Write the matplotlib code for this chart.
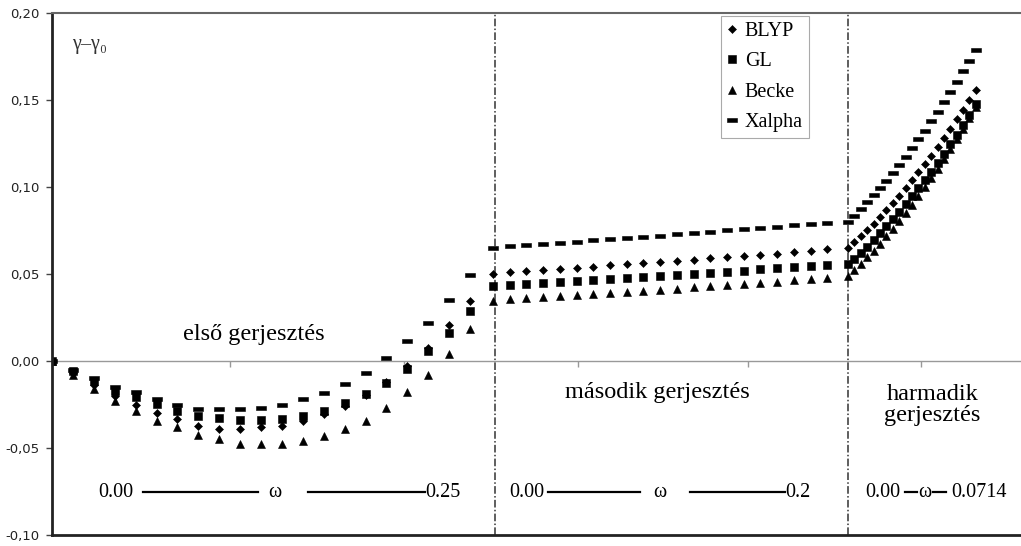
import matplotlib.pyplot as plt
import numpy as np

# omega grid of each excitation (21 points each)
omega1 = np.linspace(0, 0.25, 21)
omega2 = np.linspace(0, 0.2, 21)
omega3 = np.linspace(0, 0.0714, 21)

# first excitation
blyp1 = [0, -0.007, -0.014, -0.020, -0.025, -0.030, -0.0335, -0.0375, -0.0389, -0.0392, -0.0382,
         -0.0374, -0.0345, -0.0307, -0.0257, -0.0195, -0.0118, -0.003, 0.0077, 0.0205, 0.0345]
gl1 = [0, -0.006, -0.0115, -0.017, -0.0207, -0.0245, -0.0285, -0.0316, -0.033, -0.034, -0.0338,
       -0.0335, -0.0316, -0.0287, -0.024, -0.0187, -0.0125, -0.0048, 0.0057, 0.0163, 0.0287]
becke1 = [0, -0.008, -0.0163, -0.023, -0.029, -0.0347, -0.038, -0.0425, -0.045, -0.0475, -0.0479,
          -0.0479, -0.046, -0.043, -0.0393, -0.0343, -0.027, -0.0181, -0.0079, 0.004, 0.0182]
xalpha1 = [0, -0.005, -0.010, -0.015, -0.018, -0.022, -0.025, -0.0274, -0.0278, -0.0278, -0.0272,
           -0.0251, -0.022, -0.0182, -0.013, -0.0067, 0.0015, 0.0115, 0.022, 0.0349, 0.0492]

# second excitation
blyp2 = [0.0502, 0.0511, 0.0518, 0.0524, 0.053, 0.0536, 0.0542, 0.0549, 0.0556, 0.0562, 0.0569,
         0.0575, 0.0583, 0.059, 0.0597, 0.0603, 0.061, 0.0617, 0.0624, 0.0632, 0.0642]
gl2 = [0.0431, 0.0439, 0.0445, 0.045, 0.0456, 0.0461, 0.0466, 0.0472, 0.0478, 0.0484, 0.0489,
       0.0494, 0.05, 0.0507, 0.0513, 0.052, 0.0527, 0.0533, 0.054, 0.0546, 0.0552]
becke2 = [0.0345, 0.0356, 0.0363, 0.037, 0.0376, 0.0382, 0.0387, 0.0393, 0.0398, 0.0403, 0.0409,
          0.0416, 0.0423, 0.043, 0.0437, 0.0444, 0.045, 0.0456, 0.0463, 0.0469, 0.0475]
xalpha2 = [0.0651, 0.0661, 0.0667, 0.0674, 0.068, 0.0686, 0.0693, 0.0699, 0.0705, 0.0715, 0.0718,
           0.0728, 0.0738, 0.0743, 0.0751, 0.0757, 0.0762, 0.077, 0.078, 0.0787, 0.0793]

# third excitation
blyp3 = [0.065, 0.0683, 0.0717, 0.0752, 0.0789, 0.0827, 0.0866, 0.0907, 0.0949, 0.0993, 0.1038,
         0.1084, 0.1131, 0.118, 0.123, 0.1282, 0.1335, 0.1389, 0.1445, 0.1502, 0.156]
gl3 = [0.0556, 0.0589, 0.0623, 0.0658, 0.0695, 0.0733, 0.0773, 0.0814, 0.0857, 0.0901, 0.0946,
       0.0992, 0.104, 0.1089, 0.114, 0.1192, 0.1246, 0.1301, 0.1358, 0.1416, 0.1475]
becke3 = [0.0489, 0.0523, 0.0559, 0.0596, 0.0635, 0.0675, 0.0717, 0.076, 0.0805, 0.0851, 0.0899,
          0.0948, 0.0999, 0.1051, 0.1105, 0.116, 0.1217, 0.1275, 0.1335, 0.1396, 0.1459]
xalpha3 = [0.08, 0.0836, 0.0873, 0.0912, 0.0952, 0.0993, 0.1036, 0.1081, 0.1126, 0.1174, 0.1223,
           0.1273, 0.1324, 0.1378, 0.1432, 0.1488, 0.1546, 0.1605, 0.1665, 0.1727, 0.179]

y_ticks = [-0.10, -0.05, 0.00, 0.05, 0.10, 0.15, 0.20]

# where each excitation sits along the (label-less) x axis
offsets = [0.0, 0.2637, 0.4761]
scales = [1.0, 1.0, 1.07]
dividers = [0.2649, 0.4761]
axis_ticks = [0.1065, 0.2105, 0.3146, 0.4163, 0.5197]

SERIF = ['Liberation Serif', 'DejaVu Serif']
DASH = [(-1.5, -0.5), (1.5, -0.5), (1.5, 0.5), (-1.5, 0.5), (-1.5, -0.5)]

series = {
    'BLYP':   dict(data=[blyp1, blyp2, blyp3], marker='D', ms=4.4),
    'GL':     dict(data=[gl1, gl2, gl3], marker='s', ms=5.6),
    'Becke':  dict(data=[becke1, becke2, becke3], marker='^', ms=6.2),
    'Xalpha': dict(data=[xalpha1, xalpha2, xalpha3], marker=DASH, ms=7.4),
}

fig = plt.figure(figsize=(10.21, 5.46), dpi=100)
ax = fig.add_axes([52/1021, 11/546, 969/1021, 522/546])

for name, s in series.items():
    X = np.concatenate([o + k*w for o, k, w in zip(offsets, scales, [omega1, omega2, omega3])])
    Y = np.concatenate(s['data'])
    ax.plot(X, Y, ls='', marker=s['marker'], ms=s['ms'], color='black', mew=0.4, label=name)

ax.set_xlim(0, 0.5795)
ax.set_ylim(-0.10, 0.20)
ax.set_xticks([])
ax.set_yticks(y_ticks)
ax.set_yticklabels([f'{v:.2f}'.replace('.', ',') for v in y_ticks], fontsize=9.5, color='#222')
ax.tick_params(axis='y', length=4, width=1, color='#444', pad=5)

for side in ['left', 'bottom']:
    ax.spines[side].set_linewidth(2)
    ax.spines[side].set_color('#222')
ax.spines['top'].set_linewidth(1.5)
ax.spines['top'].set_color('#666')
ax.spines['right'].set_visible(False)

# horizontal axis through zero with its small ticks
ax.axhline(0, color='#999', lw=1, zorder=1)
ax.plot(axis_ticks, np.zeros(len(axis_ticks)), ls='', marker=3, ms=4, color='#999', zorder=1)

for d in dividers:
    ax.axvline(d, color='#333', lw=1.1, ls=(0, (5, 1.5, 1, 1.5)), zorder=1)

ax.text(0.012, 0.182, 'γ–γ₀', family=SERIF, fontsize=14.5, color='#333', va='center')
ax.text(0.1208, 0.0153, 'első gerjesztés', family=SERIF, fontsize=17.5, ha='center', va='center')
ax.text(0.3618, -0.018, 'második gerjesztés', family=SERIF, fontsize=17.5, ha='center', va='center')
ax.text(0.5265, -0.025, 'harmadik\ngerjesztés', family=SERIF, fontsize=17.5,
        ha='center', va='center', linespacing=1.0)

# omega ranges of the three excitations
yr = -0.0755
kw = dict(family=SERIF, fontsize=14.5, va='center')
ax.text(0.0275, yr, '0.00', **kw)
ax.text(0.1334, yr, 'ω', ha='center', **kw)
ax.text(0.2231, yr, '0.25', **kw)
ax.text(0.2733, yr, '0.00', **kw)
ax.text(0.3636, yr, 'ω', ha='center', **kw)
ax.text(0.4384, yr, '0.2', **kw)
ax.text(0.4862, yr, '0.00', **kw)
ax.text(0.5221, yr, 'ω', ha='center', **kw)
ax.text(0.5377, yr, '0.0714', **kw)
for x0, x1 in [(0.0544, 0.1232), (0.1531, 0.2231), (0.2967, 0.3517), (0.3816, 0.4384),
               (0.5102, 0.5173), (0.5269, 0.5347)]:
    ax.plot([x0, x1], [yr, yr], color='black', lw=1.6)

leg = ax.legend(loc='upper left', bbox_to_anchor=(0.690, 0.994), prop={'family': SERIF, 'size': 14.5},
                frameon=True, fancybox=False, edgecolor='#aaa', framealpha=1,
                handlelength=0.5, handletextpad=0.4, borderpad=0.3, labelspacing=0.55,
                borderaxespad=0)
leg.get_frame().set_linewidth(0.8)

plt.savefig('out.png', dpi=100)
